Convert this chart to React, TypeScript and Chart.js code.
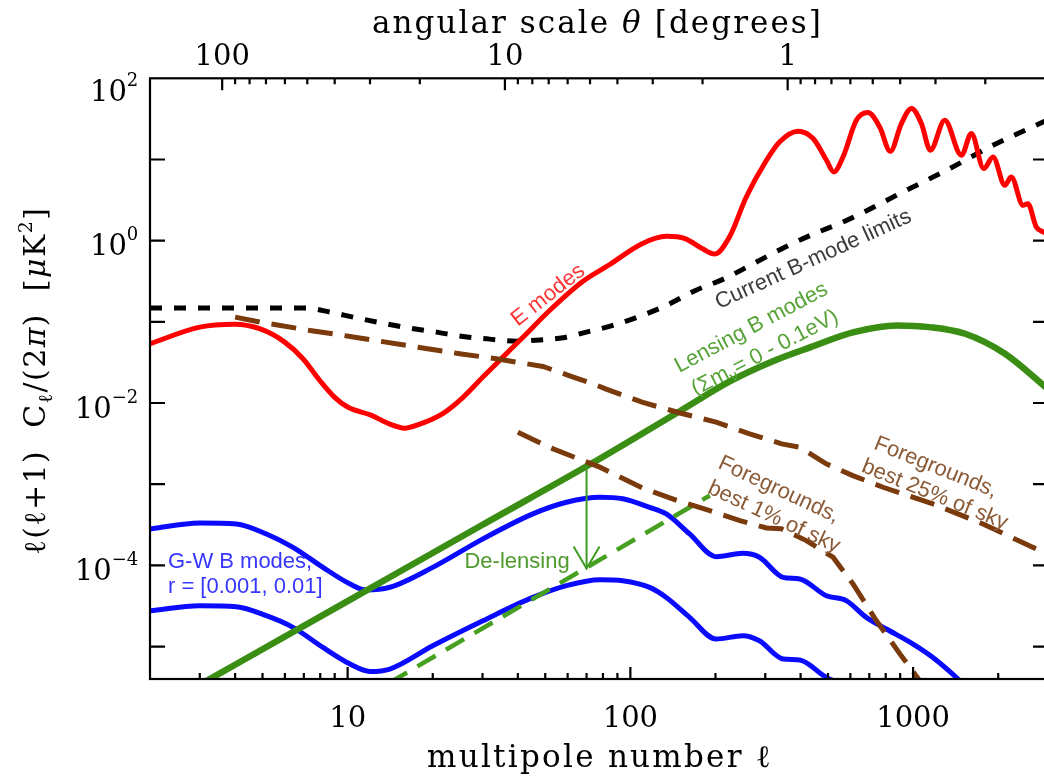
import React, { useEffect, useRef } from 'react';
import { Chart, registerables } from 'chart.js';

Chart.register(...registerables);

// ---- Data: multipole ℓ and log10[ℓ(ℓ+1)C_ℓ/2π / μK²] ----
const eModesL = [2, 3, 3.98, 4.88, 5.99, 6.95, 7.96, 9.0, 10, 12.1, 14.1, 15.9, 18, 21.7, 25.6, 30.1, 35.4, 41.7, 51.8, 68, 84, 110, 134, 156, 180, 199, 224, 257, 303, 337, 392, 443, 494, 524, 565, 630, 692, 762, 831, 909, 987, 1070, 1151, 1294, 1482, 1607, 1778, 1918, 2110, 2225, 2447, 2546, 2727, 2894, 3000];
const eModesLog = [-1.27, -1.065, -1.03, -1.085, -1.25, -1.455, -1.72, -1.93, -2.05, -2.15, -2.26, -2.31, -2.26, -2.13, -1.93, -1.68, -1.435, -1.19, -0.86, -0.5, -0.3, -0.037, 0.053, 0.025, -0.099, -0.165, 0.044, 0.538, 0.99, 1.216, 1.348, 1.258, 0.99, 0.846, 1.031, 1.483, 1.578, 1.4, 1.1, 1.443, 1.628, 1.443, 1.113, 1.483, 1.052, 1.319, 0.888, 1.031, 0.682, 0.784, 0.435, 0.456, 0.168, 0.106, 0.08];

const bLimitsL = [2, 7.15, 8.64, 10.7, 13.3, 16.6, 20.6, 25.6, 31.8, 39.5, 49.1, 57.8, 69.9, 86.7, 106, 134, 170, 215, 272, 353, 447, 548, 654, 920, 1313, 1918, 2805, 3000];
const bLimitsLog = [-0.831, -0.831, -0.88, -0.95, -1.016, -1.078, -1.127, -1.18, -1.213, -1.238, -1.22, -1.196, -1.127, -1.044, -0.942, -0.798, -0.613, -0.469, -0.284, -0.079, 0.086, 0.21, 0.333, 0.6, 0.867, 1.175, 1.443, 1.49];

const lensingL = [3, 10, 30, 76, 151, 228, 324, 434, 617, 877, 1141, 1528, 2113, 2897, 3000];
const lensingLog = [-5.47, -4.44, -3.5, -2.709, -2.092, -1.722, -1.476, -1.312, -1.127, -1.044, -1.065, -1.147, -1.393, -1.784, -1.83];

const delensedL = [14, 191];
const delensedLog = [-5.45, -3.14];

const gwHighL = [2, 3, 4.04, 5.16, 6.41, 8.18, 10.2, 11.6, 14.1, 20, 30.1, 45.2, 59.4, 78, 94, 117, 134, 162, 201, 250, 286, 347, 397, 493, 580, 683, 804, 1000, 1175, 1442, 1500];
const gwHighLog = [-3.551, -3.477, -3.49, -3.613, -3.778, -4.025, -4.23, -4.303, -4.27, -4.025, -3.674, -3.366, -3.223, -3.161, -3.18, -3.285, -3.366, -3.613, -3.893, -3.852, -3.9, -4.148, -4.168, -4.374, -4.435, -4.641, -4.784, -4.969, -5.134, -5.4, -5.46];

const gwLowL = [2, 3, 4.04, 5.16, 6.41, 8.18, 10.2, 12, 14.1, 20, 30.1, 45.2, 59.4, 78, 94, 117, 134, 162, 201, 250, 286, 347, 397, 493, 560];
const gwLowLog = [-4.559, -4.497, -4.509, -4.62, -4.764, -5.011, -5.216, -5.307, -5.277, -4.99, -4.682, -4.395, -4.25, -4.176, -4.189, -4.271, -4.395, -4.641, -4.908, -4.867, -4.929, -5.154, -5.166, -5.381, -5.46];

const fg25L = [4.0, 4.89, 7.35, 10.2, 16.1, 24.9, 33.6, 49.1, 61, 73.8, 81.7, 110, 151, 201, 264, 343, 397, 493, 612, 783, 1175, 1767, 2727, 3000];
const fg25Log = [-0.942, -1.003, -1.106, -1.18, -1.29, -1.393, -1.455, -1.55, -1.665, -1.763, -1.825, -1.99, -2.126, -2.236, -2.38, -2.503, -2.545, -2.75, -2.894, -3.038, -3.243, -3.49, -3.798, -3.85];

const fg1L = [40, 52, 78, 111, 146, 191, 244, 303, 342, 419, 521, 613, 741, 898, 1055, 1100];
const fg1Log = [-2.36, -2.55, -2.79, -3.05, -3.2, -3.326, -3.449, -3.539, -3.55, -3.695, -3.9, -4.23, -4.68, -5.09, -5.42, -5.5];

// De-lensing arrow: at ℓ, from lensed level to de-lensed level (log10)
const delensArrowL = [70, 70];
const delensArrowLog = [-2.78, -4.04];

// ---- Axis ranges and ticks ----
const L_MIN = 2;
const L_MAX = 3000;
const LOG_C_MIN = -5.4;
const LOG_C_MAX = 2;
const THETA_PER_L = 360; // θ[deg] ≈ 360/ℓ as on the top axis
const xMajorTicks = [10, 100, 1000];
const xMinorTicks = [3, 4, 5, 6, 7, 8, 9, 20, 30, 40, 50, 60, 70, 80, 90, 200, 300, 400, 500, 600, 700, 800, 900, 2000];
const thetaMajorTicks = [100, 10, 1];
const thetaMinorTicks = [90, 80, 70, 60, 50, 40, 30, 20, 9, 8, 7, 6, 5, 4, 3, 2, 0.9, 0.8, 0.7, 0.6, 0.5, 0.4, 0.3, 0.2];
const yTickExps = [-5, -4, -3, -2, -1, 0, 1];
const yLabelExps = [2, 0, -2, -4];

// ---- Layout / style ----
const W = 1060;
const H = 779;
const PLOT = { left: 150, top: 78.3, right: 1048, bottom: 679 };
const SERIF = '"DejaVu Serif"';
const SANS = '"Liberation Sans"';

type Run = { t: string; size?: number; italic?: boolean; dy?: number };

type LabelSpec = {
  runs: Run[];
  l: number;
  logC: number;
  angle: number;
  color: string;
  align?: 'left' | 'center' | 'right';
};

const RED_TEXT = '#ff3434';
const GREEN_TEXT = '#57a338';
const BROWN_TEXT = '#8b5a36';
const BLUE_TEXT = '#3636ff';

const curveLabels: LabelSpec[] = [
  { runs: [{ t: 'E modes' }], l: 50.8, logC: -0.654, angle: -38, color: RED_TEXT },
  { runs: [{ t: 'Current B-mode limits' }], l: 441, logC: -0.212, angle: -24.5, color: '#3c3c3c' },
  { runs: [{ t: 'Lensing B modes' }], l: 266, logC: -1.054, angle: -28, color: GREEN_TEXT },
  { runs: [{ t: '(Σm' }, { t: 'ν', size: 15, dy: 5 }, { t: '= 0 - 0.1eV)' }], l: 297, logC: -1.363, angle: -27.5, color: GREEN_TEXT },
  { runs: [{ t: 'Foregrounds,' }], l: 1209, logC: -2.771, angle: 22, color: BROWN_TEXT },
  { runs: [{ t: 'best 25% of sky' }], l: 1200, logC: -3.11, angle: 22, color: BROWN_TEXT },
  { runs: [{ t: 'Foregrounds,' }], l: 337, logC: -3.048, angle: 25, color: BROWN_TEXT },
  { runs: [{ t: 'best 1% of sky' }], l: 324, logC: -3.387, angle: 25, color: BROWN_TEXT },
  { runs: [{ t: 'G-W B modes,' }], l: 2.315, logC: -3.929, angle: 0, color: BLUE_TEXT, align: 'left' },
  { runs: [{ t: 'r = [0.001, 0.01]' }], l: 2.315, logC: -4.237, angle: 0, color: BLUE_TEXT, align: 'left' },
  { runs: [{ t: 'De-lensing' }], l: 25.9, logC: -3.929, angle: 0, color: '#4e9a2c', align: 'left' },
];

const toPoints = (ls: number[], logs: number[]) => ls.map((l, i) => ({ x: l, y: Math.pow(10, logs[i]) }));

function drawRuns(
  ctx: CanvasRenderingContext2D,
  runs: Run[],
  x: number,
  y: number,
  o: { angle?: number; align?: 'left' | 'center' | 'right'; color: string; family: string; size: number; fit?: number; capMiddle?: boolean }
) {
  ctx.save();
  ctx.translate(x, y);
  ctx.rotate(((o.angle || 0) * Math.PI) / 180);
  ctx.fillStyle = o.color;
  ctx.textAlign = 'left';
  ctx.textBaseline = 'alphabetic';
  const c = ctx as any;
  const fontOf = (r: Run) => `${r.italic ? 'italic ' : ''}${r.size ?? o.size}px ${o.family}`;
  c.letterSpacing = '0px';
  const widths = runs.map((r) => {
    ctx.font = fontOf(r);
    return ctx.measureText(r.t).width;
  });
  const counts = runs.map((r) => Array.from(r.t).length);
  const nChars = counts.reduce((s, n) => s + n, 0);
  const w0 = widths.reduce((s, w) => s + w, 0);
  const ls = o.fit ? (o.fit - w0) / nChars : 0;
  const total = w0 + ls * nChars;
  let cx = o.align === 'left' ? 0 : o.align === 'right' ? -total : -total / 2;
  const base = o.capMiddle ? o.size * 0.36 : 0;
  runs.forEach((r, i) => {
    ctx.font = fontOf(r);
    c.letterSpacing = `${ls}px`;
    ctx.fillText(r.t, cx, base + (r.dy || 0));
    cx += widths[i] + ls * counts[i];
  });
  c.letterSpacing = '0px';
  ctx.restore();
}

const axesPlugin = {
  id: 'idlAxes',
  afterDatasetsDraw(chart: any) {
    // arrow head for de-lensing arrow
    const ctx: CanvasRenderingContext2D = chart.ctx;
    const idx = chart.data.datasets.findIndex((d: any) => d.label === 'arrow');
    if (idx >= 0) {
      const meta = chart.getDatasetMeta(idx);
      const tip = meta.data[meta.data.length - 1];
      ctx.save();
      ctx.strokeStyle = chart.data.datasets[idx].borderColor;
      ctx.lineWidth = 2;
      ctx.beginPath();
      ctx.moveTo(tip.x - 13, tip.y - 22);
      ctx.lineTo(tip.x, tip.y);
      ctx.lineTo(tip.x + 13, tip.y - 22);
      ctx.stroke();
      ctx.restore();
    }
  },
  afterDraw(chart: any) {
    const ctx: CanvasRenderingContext2D = chart.ctx;
    const a = chart.chartArea;
    const xs = chart.scales.x;
    const ys = chart.scales.y;
    const ts = chart.scales.theta;

    // curve labels
    for (const lb of curveLabels) {
      const px = xs.getPixelForValue(lb.l);
      const py = ys.getPixelForValue(Math.pow(10, lb.logC));
      drawRuns(ctx, lb.runs, px, py, { angle: lb.angle, align: lb.align ?? 'center', color: lb.color, family: SANS, size: 22, capMiddle: true });
    }

    ctx.save();
    ctx.strokeStyle = '#000';
    ctx.lineWidth = 2.2;
    ctx.lineCap = 'butt';
    ctx.strokeRect(a.left, a.top, a.right - a.left, a.bottom - a.top);
    ctx.beginPath();
    for (const v of xMajorTicks) {
      const p = xs.getPixelForValue(v);
      ctx.moveTo(p, a.bottom);
      ctx.lineTo(p, a.bottom - 12);
    }
    for (const v of xMinorTicks) {
      const p = xs.getPixelForValue(v);
      ctx.moveTo(p, a.bottom);
      ctx.lineTo(p, a.bottom - 6);
    }
    for (const v of thetaMajorTicks) {
      const p = ts.getPixelForValue(v);
      ctx.moveTo(p, a.top);
      ctx.lineTo(p, a.top + 12);
    }
    for (const v of thetaMinorTicks) {
      const p = ts.getPixelForValue(v);
      ctx.moveTo(p, a.top);
      ctx.lineTo(p, a.top + 6);
    }
    for (const e of yTickExps) {
      const p = ys.getPixelForValue(Math.pow(10, e));
      ctx.moveTo(a.left, p);
      ctx.lineTo(a.left + 15, p);
      ctx.moveTo(a.right, p);
      ctx.lineTo(a.right - 15, p);
    }
    ctx.stroke();
    ctx.restore();

    // tick labels
    ctx.save();
    ctx.fillStyle = '#000';
    ctx.textBaseline = 'alphabetic';
    ctx.textAlign = 'center';
    ctx.font = `29px ${SERIF}`;
    for (const v of xMajorTicks) {
      ctx.fillText(String(v), xs.getPixelForValue(v), a.bottom + 47.7);
    }
    for (const v of thetaMajorTicks) {
      ctx.fillText(String(v), ts.getPixelForValue(v), a.top - 13.3);
    }
    ctx.textAlign = 'left';
    const rightEdge = a.left - 11.7;
    for (const e of yLabelExps) {
      const p = ys.getPixelForValue(Math.pow(10, e)) + (e === LOG_C_MAX ? 8 : 0);
      const es = e < 0 ? `\u2212${-e}` : String(e);
      ctx.font = `18px ${SERIF}`;
      const ew = ctx.measureText(es).width;
      ctx.font = `29px ${SERIF}`;
      const mw = ctx.measureText('10').width;
      ctx.fillText('10', rightEdge - ew - mw, p + 14.5);
      ctx.font = `18px ${SERIF}`;
      ctx.fillText(es, rightEdge - ew, p - 0.5);
    }
    ctx.restore();

    // axis titles
    const cxm = (a.left + a.right) / 2;
    drawRuns(ctx, [{ t: 'multipole number ' }, { t: 'ℓ' }], cxm + 1, a.bottom + 87.7, { color: '#000', family: SERIF, size: 31, fit: 346 });
    drawRuns(ctx, [{ t: 'angular scale ' }, { t: 'θ', italic: true }, { t: ' [degrees]' }], cxm - 1.5, 33, { color: '#000', family: SERIF, size: 31, fit: 451 });
    drawRuns(
      ctx,
      [
        { t: 'ℓ(ℓ+1)  C' },
        { t: 'ℓ', size: 20, dy: 7 },
        { t: '/(2' },
        { t: 'π', italic: true },
        { t: ')  [' },
        { t: 'μ', italic: true },
        { t: 'K' },
        { t: '2', size: 19, dy: -13 },
        { t: ']' },
      ],
      45,
      (a.top + a.bottom) / 2 + 2,
      { angle: -90, color: '#000', family: SERIF, size: 30, fit: 348 }
    );
  },
};

export default function App() {
  const ref = useRef<HTMLCanvasElement>(null);
  useEffect(() => {
    const canvas = ref.current;
    if (!canvas) return;
    const common = { pointRadius: 0, pointHoverRadius: 0, fill: false, clip: 0, xAxisID: 'x', yAxisID: 'y' };
    const smooth = { cubicInterpolationMode: 'monotone' as const, borderJoinStyle: 'round' as const };
    const datasets: any[] = [
      { ...common, label: 'fg25', data: toPoints(fg25L, fg25Log), borderColor: '#7a3a0c', borderWidth: 5, borderDash: [25, 12], tension: 0 },
      { ...common, label: 'fg1', data: toPoints(fg1L, fg1Log), borderColor: '#7a3a0c', borderWidth: 5, borderDash: [25, 12], tension: 0 },
      { ...common, label: 'arrow', data: toPoints(delensArrowL, delensArrowLog), borderColor: '#3f9a22', borderWidth: 2, tension: 0 },
      { ...common, ...smooth, label: 'E modes', data: toPoints(eModesL, eModesLog), borderColor: '#ff0000', borderWidth: 5 },
      { ...common, ...smooth, label: 'B limits', data: toPoints(bLimitsL, bLimitsLog), borderColor: '#000000', borderWidth: 5, borderDash: [12, 12] },
      { ...common, ...smooth, label: 'lensing', data: toPoints(lensingL, lensingLog), borderColor: '#3a8e14', borderWidth: 6.5 },
      { ...common, label: 'delensed', data: toPoints(delensedL, delensedLog), borderColor: '#46a020', borderWidth: 4.5, borderDash: [21, 12], tension: 0 },
      { ...common, ...smooth, label: 'gw r=0.01', data: toPoints(gwHighL, gwHighLog), borderColor: '#0a0aff', borderWidth: 5 },
      { ...common, ...smooth, label: 'gw r=0.001', data: toPoints(gwLowL, gwLowLog), borderColor: '#0a0aff', borderWidth: 5 },
    ];
    const hidden = { ticks: { display: false }, grid: { display: false }, border: { display: false }, title: { display: false } };
    const chart = new Chart(canvas, {
      type: 'line',
      data: { datasets },
      options: {
        animation: false,
        responsive: true,
        maintainAspectRatio: false,
        events: [],
        layout: { padding: 0, autoPadding: false },
        plugins: { legend: { display: false }, tooltip: { enabled: false } },
        scales: {
          x: { type: 'logarithmic', position: 'bottom', min: L_MIN, max: L_MAX, bounds: 'data', ...hidden, afterFit: (s: any) => { s.height = H - PLOT.bottom; } },
          theta: { type: 'logarithmic', position: 'top', min: THETA_PER_L / L_MAX, max: THETA_PER_L / L_MIN, reverse: true, bounds: 'data', ...hidden, afterFit: (s: any) => { s.height = PLOT.top; } },
          y: { type: 'logarithmic', position: 'left', min: Math.pow(10, LOG_C_MIN), max: Math.pow(10, LOG_C_MAX), bounds: 'data', ...hidden, afterFit: (s: any) => { s.width = PLOT.left; } },
          y2: { type: 'logarithmic', position: 'right', min: Math.pow(10, LOG_C_MIN), max: Math.pow(10, LOG_C_MAX), bounds: 'data', ...hidden, afterFit: (s: any) => { s.width = W - PLOT.right; } },
        },
      } as any,
      plugins: [axesPlugin as any],
    });
    return () => chart.destroy();
  }, []);

  return (
    <div style={{ position: 'fixed', left: 0, top: 0, width: 1044, height: 779, overflow: 'hidden', background: '#ffffff' }}>
      <div style={{ position: 'relative', width: W, height: H }}>
        <canvas ref={ref} />
      </div>
    </div>
  );
}
